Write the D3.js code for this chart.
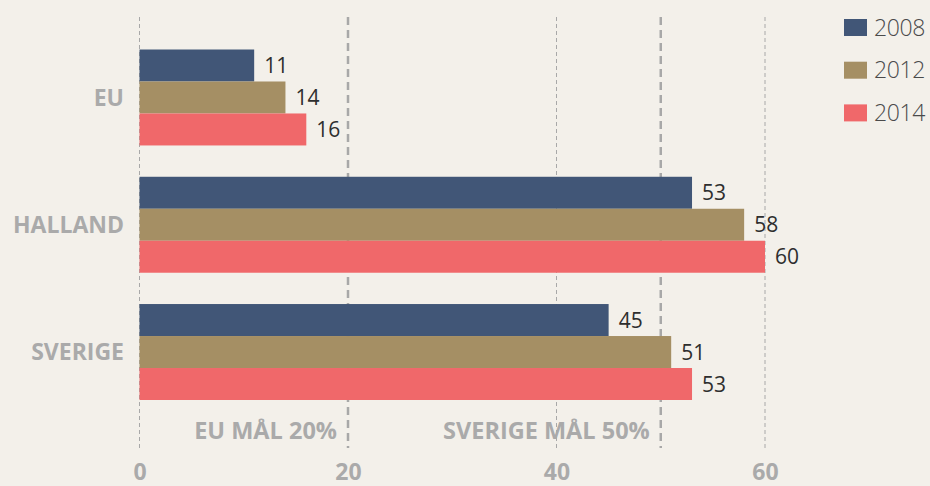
<!DOCTYPE html>
<html>
<head>
<meta charset="utf-8">
<script src="https://cdn.jsdelivr.net/npm/d3@7"></script>
<style>
  html, body { margin: 0; padding: 0; background: #f3f0ea; }
  svg { display: block; }
</style>
</head>
<body>
<svg id="chart" width="930" height="486"></svg>
<script>
// Andel förnybar energi per region och år
const regions = ["EU", "HALLAND", "SVERIGE"];
const years = ["2008", "2012", "2014"];
const values2008 = [11, 53, 45];
const values2012 = [14, 58, 51];
const values2014 = [16, 60, 53];
const colors = ["#415677", "#a58f64", "#f0686a"];
const ticks = [0, 20, 40, 60];
const goals = [
  { value: 20, label: "EU MÅL 20%" },
  { value: 50, label: "SVERIGE MÅL 50%" }
];

const seriesValues = [values2008, values2012, values2014];
const rows = [];
regions.forEach((r, i) => {
  years.forEach((y, j) => rows.push({ region: r, year: y, value: seriesValues[j][i], color: colors[j] }));
});

const svg = d3.select("#chart");
const W = 930, H = 486;
svg.append("rect").attr("width", W).attr("height", H).attr("fill", "#f3f0ea");

const x = d3.scaleLinear().domain([0, 60]).range([139.5, 765]);
const y = d3.scaleBand().domain(regions).range([49.5, 400]).paddingInner(0.246).paddingOuter(0);
const yInner = d3.scaleBand().domain(years).range([0, y.bandwidth()]);

const gridTop = 17, gridBottom = 448;
const gray = "#aaaaaa";
const sans = "'Open Sans', 'Noto Sans', sans-serif";

// Regular grid lines (ticks that are not goals)
const goalValues = goals.map(g => g.value);
svg.append("g").selectAll("line")
  .data(ticks.filter(t => !goalValues.includes(t)))
  .join("line")
  .attr("x1", d => x(d)).attr("x2", d => x(d))
  .attr("y1", gridTop).attr("y2", gridBottom)
  .attr("stroke", "#a8a8a8").attr("stroke-width", 1)
  .attr("stroke-dasharray", "4,3");

// Goal lines
svg.append("g").selectAll("line")
  .data(goals)
  .join("line")
  .attr("x1", d => x(d.value)).attr("x2", d => x(d.value))
  .attr("y1", gridTop).attr("y2", gridBottom)
  .attr("stroke", "#a8a8a8").attr("stroke-width", 2.5)
  .attr("stroke-dasharray", "8,5");

// Goal labels
svg.append("g").selectAll("text")
  .data(goals)
  .join("text")
  .attr("x", d => x(d.value) - 11)
  .attr("y", 439)
  .attr("text-anchor", "end")
  .attr("font-family", sans).attr("font-weight", 700).attr("font-size", 23.5)
  .attr("fill", gray)
  .text(d => d.label);

// Bars
const barG = svg.append("g");
barG.selectAll("rect")
  .data(rows)
  .join("rect")
  .attr("x", x(0))
  .attr("y", d => y(d.region) + yInner(d.year))
  .attr("width", d => x(d.value) - x(0))
  .attr("height", yInner.bandwidth())
  .attr("fill", d => d.color);

// Value labels
const valFs = 21;
barG.selectAll("text")
  .data(rows)
  .join("text")
  .attr("x", d => x(d.value) + 10)
  .attr("y", d => y(d.region) + yInner(d.year) + yInner.bandwidth() / 2 + valFs * 0.36)
  .attr("font-family", sans).attr("font-size", valFs)
  .attr("fill", "#2e2e2e")
  .text(d => d.value);

// Category labels
const catFs = 23;
svg.append("g").selectAll("text")
  .data(regions)
  .join("text")
  .attr("x", 124)
  .attr("y", d => y(d) + y.bandwidth() / 2 + catFs * 0.36)
  .attr("text-anchor", "end")
  .attr("font-family", sans).attr("font-weight", 700).attr("font-size", catFs)
  .attr("fill", gray)
  .text(d => d);

// X axis tick labels
const xAxis = d3.axisBottom(x).tickValues(ticks).tickSize(0).tickPadding(0);
const axisG = svg.append("g").attr("transform", "translate(0,460)").call(xAxis);
axisG.select(".domain").remove();
axisG.selectAll("text")
  .attr("dy", null)
  .attr("y", 19.5)
  .attr("font-family", sans).attr("font-weight", 700).attr("font-size", 23)
  .attr("fill", gray);

// Legend
const legFs = 23;
const legend = svg.append("g").selectAll("g")
  .data(years)
  .join("g")
  .attr("transform", (d, i) => `translate(844,${19 + i * 42.7})`);
legend.append("rect")
  .attr("width", 23).attr("height", 17)
  .attr("fill", (d, i) => colors[i]);
legend.append("text")
  .attr("x", 30).attr("y", 8.5 + legFs * 0.36)
  .attr("font-family", sans).attr("font-weight", 300).attr("font-size", legFs)
  .attr("letter-spacing", -0.4)
  .attr("fill", "#4a4a4a")
  .text(d => d);
</script>
</body>
</html>
